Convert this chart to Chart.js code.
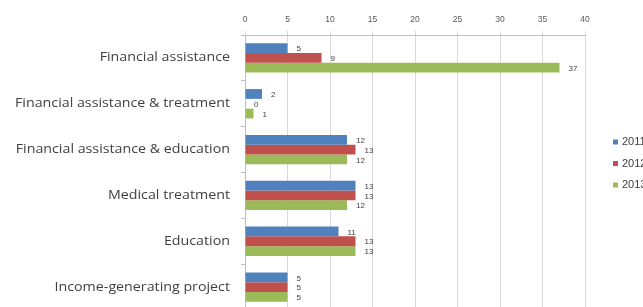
<!DOCTYPE html>
<html>
<head>
<meta charset="utf-8">
<script src="https://cdn.jsdelivr.net/npm/chart.js@4"></script>
<style>
  html,body{margin:0;padding:0;background:#fff;overflow:hidden;}
  #wrap{position:relative;width:660px;height:325px;}
</style>
</head>
<body>
<div id="wrap"><canvas id="c" width="660" height="325"></canvas></div>
<script>
/* ===== 資料 ===== */
const categories=['Financial assistance','Financial assistance & treatment','Financial assistance & education','Medical treatment','Education','Income-generating project'];
const seriesNames=['2011','2012','2013'];
const v2011=[5,2,12,13,11,5];
const v2012=[9,0,13,13,13,5];
const v2013=[37,1,12,12,13,5];
const xTicks=[0,5,10,15,20,25,30,35,40];
const colors=['#4F81BD','#C0504D','#9BBB59'];

/* ===== 數值標籤 ===== */
const valueLabels={
  id:'valueLabels',
  afterDatasetsDraw(chart){
    const ctx=chart.ctx;
    ctx.save();
    ctx.font='8px "Liberation Sans", sans-serif';
    ctx.fillStyle='#404040';
    ctx.textBaseline='middle';
    chart.data.datasets.forEach((ds,di)=>{
      chart.getDatasetMeta(di).data.forEach((bar,i)=>{
        ctx.fillText(String(ds.data[i]), bar.x+9, bar.y+1);
      });
    });
    ctx.restore();
  }
};

/* ===== 分類標籤（橫向拉寬，仿原圖） ===== */
const catLabels={
  id:'catLabels',
  afterDraw(chart){
    const ctx=chart.ctx, ys=chart.scales.y;
    ctx.save();
    ctx.font='12px "Open Sans", sans-serif';
    const longest=Math.max(...categories.map(t=>ctx.measureText(t).width));
    const sx=215/longest;
    ctx.fillStyle='#404040';
    ctx.textAlign='right';
    ctx.textBaseline='middle';
    categories.forEach((t,i)=>{
      const y=ys.getPixelForValue(i);
      ctx.save();
      ctx.translate(230,y);
      ctx.scale(sx,1);
      ctx.fillText(t,0,0);
      ctx.restore();
    });
    ctx.restore();
  }
};

/* ===== 圖例（右側） ===== */
const sideLegend={
  id:'sideLegend',
  afterDraw(chart){
    const ctx=chart.ctx;
    ctx.save();
    ctx.font='11px "Liberation Sans", sans-serif';
    ctx.textBaseline='middle';
    chart.data.datasets.forEach((ds,i)=>{
      const y=142+i*21.5;
      ctx.fillStyle=ds.backgroundColor;
      ctx.fillRect(613,y-2.5,5,5);
      ctx.fillStyle='#404040';
      ctx.fillText(ds.label,622,y);
    });
    ctx.restore();
  }
};

new Chart(document.getElementById('c'),{
  type:'bar',
  data:{
    labels:categories,
    datasets:[v2011,v2012,v2013].map((d,i)=>({
      label:seriesNames[i],
      data:d,
      backgroundColor:colors[i],
      borderColor:colors[i],
      borderWidth:0,
      categoryPercentage:0.64,
      barPercentage:1
    }))
  },
  options:{
    indexAxis:'y',
    responsive:false,
    animation:false,
    layout:{padding:{left:0,right:75,top:0,bottom:15}},
    plugins:{legend:{display:false},tooltip:{enabled:false}},
    scales:{
      x:{
        position:'top',
        min:0,max:40,
        afterBuildTicks(s){ s.ticks=xTicks.map(v=>({value:v})); },
        afterFit(s){ s.height=35; },
        grid:{color:'#d9d9d9',tickLength:4,drawTicks:true},
        border:{color:'#bfbfbf'},
        ticks:{color:'#595959',font:{size:8.5,family:'"Liberation Sans", sans-serif'},padding:6}
      },
      y:{
        afterFit(s){ s.width=245; },
        grid:{offset:true,drawOnChartArea:false,tickLength:4,color:'#bfbfbf'},
        border:{color:'#bfbfbf'},
        ticks:{display:false}
      }
    }
  },
  plugins:[valueLabels,catLabels,sideLegend]
});
</script>
</body>
</html>
